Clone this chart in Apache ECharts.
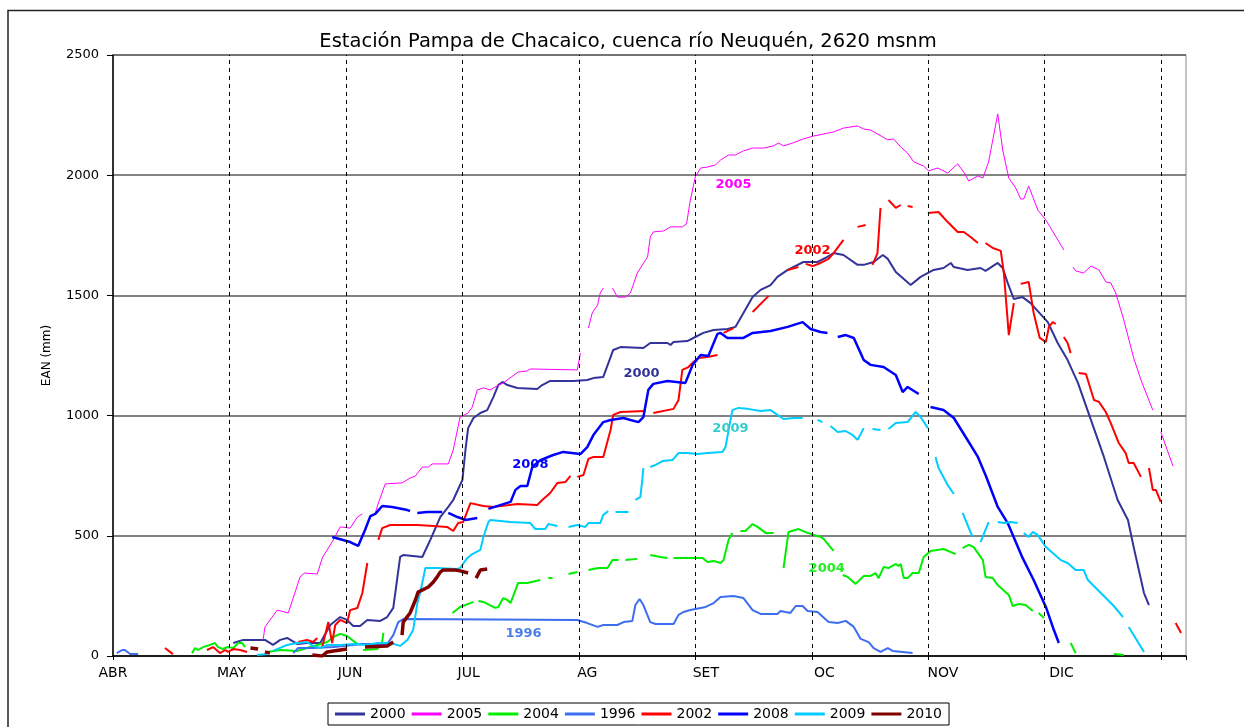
<!DOCTYPE html>
<html>
<head>
<meta charset="utf-8">
<script src="https://cdn.jsdelivr.net/npm/echarts@6/dist/echarts.min.js"></script>
<style>
    html, body { margin: 0; padding: 0; background: #fff; }
    #chart { width: 1244px; height: 727px; }
</style>
</head>
<body>
<div id="chart"></div>
<script>
// eje x: dias desde el 1 de abril, eje y: EAN (mm); null = corte de la serie
var monthLabels = ['ABR', 'MAY', 'JUN', 'JUL', 'AG', 'SET', 'OC', 'NOV', 'DIC'];
var monthStarts = [30.5, 61, 91.5, 122, 152.5, 183, 213.5, 244, 274.5];
var yTicks = [0, 500, 1000, 1500, 2000, 2500];

var y2000 = [[31.5,54],[34.1,67],[39.8,67],[41.9,46],[43.8,67],[45.6,75],[48.2,50],[50.8,54],[54.3,54],[55,75],[56.9,129],[59.5,162],[61.3,150],[62.9,125],[64.7,125],[66.6,150],[70,146],[71.8,162],[73.4,200],[75.2,412],[76,420],[81,412],[83.1,483],[85.7,578],[87.8,620],[89.1,649],[91.5,732],[92.3,857],[93,948],[94.4,990],[96.2,1011],[98,1023],[99.6,1077],[100.9,1127],[102,1140],[103.3,1127],[105.9,1115],[111.1,1111],[112.4,1127],[114.5,1144],[120.6,1144],[124.2,1148],[125.8,1156],[128.4,1161],[131,1273],[132.9,1285],[138.9,1281],[140.7,1302],[145.2,1302],[146,1294],[146.8,1306],[150.4,1310],[152.5,1327],[154.6,1344],[157.3,1356],[160.9,1360],[163,1369],[165.1,1427],[167.5,1493],[169.6,1523],[172.2,1543],[174,1577],[176.7,1606],[180.8,1639],[184.5,1639],[187.1,1660],[188.7,1676],[191.3,1668],[195,1627],[196.6,1627],[199.2,1639],[201.6,1668],[202.9,1652],[205,1597],[208.9,1543],[211.5,1577],[214.9,1606],[217.5,1614],[219.4,1635],[220.2,1618],[223.8,1606],[227.2,1614],[228.5,1602],[231.7,1635],[233,1614],[234.3,1552],[235.9,1485],[238.2,1493],[240.3,1468],[244.8,1389],[247.4,1302],[250,1231],[252.7,1136],[256.1,982],[259.5,828],[263.1,649],[265.8,566],[267.3,453],[270,262],[271.3,212]];

var y2005 = [[39.3,67],[39.8,121],[43,191],[45.9,179],[49,329],[50.1,345],[53.5,341],[54.8,408],[57.7,483],[59.5,537],[62.1,532],[64,578],[65.3,591],null,[68.7,595],[69.5,636],[71.3,716],[75.7,720],[77.8,740],[79.2,749],[81,786],[82.6,786],[83.6,799],[87.8,799],[89.1,857],[90.9,994],[93,1011],[94.1,1036],[95.4,1107],[97,1115],[98.8,1107],[100.1,1119],[102.2,1136],[106.1,1181],[108.5,1186],[109.3,1194],[121.6,1190],[122.4,1260],null,[124.5,1364],[125.5,1427],[126.9,1460],[127.6,1510],[128.4,1531],null,[130.8,1531],[132.1,1493],[134.2,1493],[135.5,1510],[137.3,1593],[140,1660],[140.7,1743],[141.5,1764],[144.2,1768],[146,1785],[149.1,1785],[150.2,1797],[151.2,1897],[152.5,1993],[153.9,2030],[155.7,2034],[157.8,2043],[159.1,2063],[161.2,2084],[163,2084],[165.1,2101],[167.5,2113],[170.4,2113],[173,2122],[174.3,2134],[175.6,2122],[178,2134],[180.8,2151],[183.5,2163],[188.7,2180],[191.3,2196],[195,2205],[196.6,2192],[198.4,2188],[202.9,2147],[204.4,2151],[206.3,2117],[208.1,2092],[209.7,2055],[212.3,2038],[213.6,2018],[216,2030],[218.6,2009],[221.2,2047],[222.8,2013],[224.1,1976],[226.5,1997],[227.8,1988],[229.3,2055],[231.7,2255],[233,2105],[234.6,1988],[236.4,1947],[237.7,1901],[238.5,1901],[239.8,1955],[242.2,1855],[244.3,1814],[249,1689],null,[251.4,1618],[252.1,1602],[254.2,1593],[256.1,1622],[258.2,1606],[260,1556],[261.3,1552],[262.6,1510],[264.7,1398],[267.3,1240],[269.2,1148],[272.3,1023],null,[274.4,932],[277.6,790]];

var y2004 = [[20.7,12],[21.5,33],[22.3,25],[23.6,37],[25.4,46],[26.7,54],[27.5,37],[28.8,29],[29.9,37],[31.5,33],[32.8,54],[33.8,54],[34.6,37],null,[40.4,17],[43.8,25],[48.2,21],[50.8,33],[53.5,46],[56.1,58],[57.7,79],[59.5,92],[61.3,83],[62.6,67],[64,50],null,[65.5,25],[69.2,29],[70.5,58],[70.8,96],null,[88.9,179],[90.9,204],[94.4,225],null,[95.7,229],[97,225],[100.1,200],[100.9,204],[102.2,241],[103.3,233],[104.1,220],[106.1,304],[108.5,304],[111.9,316],null,[114,324],[115.1,324],null,[119.3,341],[121.6,349],null,[124.5,358],[127.1,366],[129.5,366],[130.8,399],[132.4,399],null,[134.2,399],[137.3,404],null,[140.7,420],[143.4,412],[145.2,408],null,[146.8,408],[149.9,408],[154.4,408],[155.7,391],[157.3,395],[159.1,387],[159.9,399],[161.2,483],[162.2,512],null,[164.3,520],[165.6,520],[167.5,549],[168.8,537],[170.9,512],[173,512],null,[175.6,366],[176.9,516],[179.5,528],[181.9,512],[185.3,495],[186.1,487],[187.4,462],[188.7,437],null,[191.1,337],[192.4,329],[194.5,300],[196.6,333],[198.4,333],[199.7,345],[200.5,324],[201.8,370],[203.1,366],[205,383],[205.7,374],[206.3,383],[207.1,324],[208.1,324],[209.4,345],[211,345],[212.3,412],[214.1,437],[217.5,445],[220.7,424],null,[222.5,449],[224.1,462],[225.4,453],[227.8,399],[228.5,329],[230.4,324],[231.7,295],[234.6,254],[235.6,208],[237.2,216],[239,212],[240.9,187],null,[242.4,179],[243.8,158],null,[250.8,54],[252.1,12],null,[262.1,8],[264.7,4]];

var y1996 = [[1,12],[2.4,25],[3.1,25],[4.5,8],[6.6,8],null,[47.2,12],[48.5,33],[52.4,33],[57.7,37],[65.5,50],[71.8,50],[73.4,87],[74.7,141],[76,154],[121.6,150],[124.2,137],[126.9,121],[128.4,129],[132.1,129],[133.7,141],[136,146],[136.8,212],[137.9,237],[138.9,212],[140.7,141],[142.1,133],[146.8,133],[148.1,171],[149.4,183],[151.2,191],[155.2,204],[157.3,220],[159.1,245],[162.5,250],[165.1,241],[167.5,191],[169.6,175],[174,175],[174.8,187],[177.4,179],[178.8,208],[180.6,208],[181.9,187],[184.5,183],[187.4,141],[189.8,137],[191.9,146],[194,121],[195.8,71],[197.9,58],[199.2,33],[201,17],[202.9,33],[204.2,21],[209.4,12]];

var y2002 = [[13.6,33],[15.7,8],null,[24.6,25],[26.2,37],[28,12],[29.4,25],[30.1,17],[31.5,29],[33.3,25],[35.1,17],null,[48.5,58],[50.8,67],[52.4,58],[53.5,75],null,[54.8,37],[56.4,141],[57.4,54],[58.2,129],[59.5,150],[61.3,137],[62.1,191],[64,200],[65.3,262],[66.6,387],null,[69.5,483],[70.5,532],[72.6,545],[79.7,545],[83.9,541],[87.5,537],[89.1,520],[90.4,553],[91.7,557],[93.6,636],[97,624],[99.6,620],[105.9,632],[111.1,628],[112.4,649],[114.5,678],[116.4,720],[118.5,724],[119.8,749],null,[121.6,745],[123.2,753],[124.5,820],[125.8,828],[128.4,828],[130.3,940],[131,1003],[132.9,1015],[139.4,1019],null,[141.5,1011],[146.8,1028],[148.1,1065],[149.1,1190],[150.7,1202],[152,1223],[153.3,1240],[155.7,1244],[158.3,1252],null,[159.9,1344],[162.5,1364],null,[167.5,1431],[171.7,1498],null,[176.7,1606],[179.5,1618],null,[181.4,1631],[183.2,1622],[185.3,1635],[187.4,1652],[188.7,1676],[191.3,1731],null,[195,1785],[197.1,1793],null,[198.9,1627],[200.2,1676],[201,1864],null,[203.1,1897],[205,1864],[206.3,1876],null,[208.1,1872],[209.4,1868],null,[213.4,1843],[216.2,1847],[218.6,1805],[221.2,1764],[222.8,1764],[224.6,1743],[226.5,1718],null,[228.5,1718],[230.4,1697],[232.5,1685],[233.3,1593],[234.6,1335],[235.9,1468],null,[237.7,1548],[239.8,1556],[241.1,1427],[242.7,1323],[244.3,1306],[245.1,1369],[246.1,1389],[246.9,1381],null,[249,1327],[250,1302],[250.8,1260],null,[252.9,1177],[254.8,1173],[256.9,1065],[258.2,1057],[260,1015],[261.3,969],[263.4,886],[265.2,844],[266,803],[267.3,803],[269.2,745],null,[271.3,782],[272.3,691],[273.1,691],[274.4,641],null,[278.3,137],[279.7,96]];

var y2008 = [[57.4,495],[62.1,474],[64.2,458],[66,524],[67.4,582],[68.7,591],[70.5,624],[73.1,620],[77.1,607],[77.8,603],null,[79.7,595],[82.3,599],[86.2,599],null,[87.8,595],[90.2,578],[92.3,566],[95.4,574],null,[98.3,612],[104.1,641],[105.4,691],[106.7,707],[108.5,707],[109.8,786],[111.9,815],[115.3,836],[117.9,849],[122.4,840],[124.2,869],[125.8,919],[128.4,973],[130.3,982],[133.7,990],[135.5,982],[137.6,973],[138.9,994],[140.2,1107],[141.5,1132],[145.2,1144],[149.9,1136],[151.8,1211],[153.9,1252],[155.9,1248],[158.3,1340],[159.1,1344],[160.9,1323],[165.1,1323],[167.5,1344],[172.2,1352],[176.7,1369],[180.6,1389],[182.7,1360],[185.3,1348],[187.1,1344],null,[189.8,1327],[191.9,1335],[194,1323],[196.6,1231],[198.4,1211],[201.8,1202],[205,1169],[206.8,1098],[208.1,1119],[211,1090],null,[214.1,1036],[217.5,1023],[220.2,990],[223.3,911],[226.5,828],[228.5,753],[231.7,620],[234.3,553],[238.2,408],[241.1,316],[244.3,204],[246.4,108],[247.7,54]];

var y2009 = [[37.7,4],[40.4,8],null,[41.9,21],[45.6,46],[48.2,54],[50.8,58],[52.4,42],[54.3,33],[56.1,46],[59.5,46],[62.9,50],[66.6,46],[69.2,54],[72.6,54],[75.2,42],[77.1,67],[78.6,108],[79.7,220],[80.5,266],[81.8,366],[84.9,366],[90.2,362],[90.9,366],[92.8,408],[94.1,424],[96.2,441],[97,495],[98.3,557],[98.8,566],[104.1,557],[109.3,553],[110.6,528],[113.2,528],[114,549],[116.4,541],null,[119.3,537],[121.6,545],[123.7,537],[124.5,553],[127.6,553],[128.4,587],[129.7,603],null,[131.6,599],[135,599],null,[136.8,649],[138.1,661],[138.6,732],[138.9,782],null,[140.7,786],[142.1,795],[143.9,811],[146.5,815],[148.1,844],[150.4,844],[153.1,840],[155.7,844],[159.6,849],[160.4,869],[162.2,1023],[163.8,1032],[166.2,1028],[169.6,1019],[172.2,1023],[175.6,986],[178.2,990],[180.6,990],null,[184.5,982],[185.8,973],null,[187.9,957],[189.8,932],[191.9,936],[193.7,919],[195,899],[196.6,948],null,[198.9,944],[201,940],null,[203.1,944],[205,969],[208.1,973],[210.2,1015],[211.5,994],[213.4,948],null,[215.4,828],[216.2,782],[218.6,711],[220.2,674],null,[222.5,595],[225.1,495],null,[227.2,474],[229.3,557],null,[231.7,557],[233.3,553],[235.1,557],[236.9,553],null,[238.5,512],[239.8,495],[240.9,516],[242.2,503],[244.3,453],[248.2,399],[250,387],[252.1,358],[254.2,358],[255.3,316],[258.7,262],[262.1,208],[264.5,162],null,[266,121],[270,17]];

var y2010 = [[36,33],[38,29],null,[39.8,17],[41.1,12],null,[52.2,4],[54.8,0],[56.1,17],[59.5,25],[61.3,29],null,[66,37],[71.8,42],[73.4,58],null,[75.7,87],[76,141],[77.8,179],[79.2,233],[79.9,266],[82.6,287],[83.9,308],[84.9,329],[85.7,349],[86.5,358],[89.6,358],[90.9,354],[93,345],null,[95.1,324],[96.2,358],[98,362]];

var font = 'DejaVu Sans';

// nombres de las series y de las etiquetas dentro del grafico
var defs = [
    { name: '2000', pts: y2000, color: '#333399', width: 2,   note: [138.4, 1173] },
    { name: '2005', pts: y2005, color: '#FF00FF', width: 1,   note: [162.5, 1959] },
    { name: '2004', pts: y2004, color: '#00EE00', width: 2,   note: [186.9, 362], noteColor: '#22EE22' },
    { name: '1996', pts: y1996, color: '#3D6EF0', width: 2,   note: [107.5, 92], noteColor: '#4A7FEA' },
    { name: '2002', pts: y2002, color: '#FF0000', width: 2,   note: [183.2, 1685] },
    { name: '2008', pts: y2008, color: '#0000FF', width: 2.5, note: [109.3, 795] },
    { name: '2009', pts: y2009, color: '#00CCFF', width: 2,   note: [161.7, 944], noteColor: '#33CCCC' },
    { name: '2010', pts: y2010, color: '#800000', width: 3.5 }
];

function toData(pts) {
    var out = [];
    for (var i = 0; i < pts.length; i++) {
        if (pts[i] === null) {
            out.push([pts[i - 1][0] + 0.1, null]);
        } else {
            out.push(pts[i]);
        }
    }
    return out;
}

var series = [
    // lineas verticales punteadas de cada mes
    {
        name: 'meses',
        type: 'line',
        data: [],
        z: 1,
        markLine: {
            silent: true,
            symbol: ['none', 'none'],
            label: { show: false },
            lineStyle: { color: '#000', type: [4, 4], width: 1 },
            data: monthStarts.map(function (d) { return { xAxis: d }; })
        }
    }
];

defs.forEach(function (d) {
    var s = {
        name: d.name,
        type: 'line',
        data: toData(d.pts),
        showSymbol: false,
        connectNulls: false,
        color: d.color,
        lineStyle: { color: d.color, width: d.width },
        z: 2
    };
    if (d.note) {
        s.markPoint = {
            silent: true,
            symbol: 'circle',
            symbolSize: 1,
            itemStyle: { color: 'rgba(0,0,0,0)' },
            label: {
                show: true,
                position: 'inside',
                formatter: '{b}',
                color: d.noteColor || d.color,
                fontWeight: 'bold',
                fontSize: 13,
                fontFamily: font
            },
            data: [{ name: d.name, coord: d.note }]
        };
    }
    series.push(s);
});

var chart = echarts.init(document.getElementById('chart'));

var option = {
    animation: false,
    textStyle: { fontFamily: font },
    graphic: [
        {
            type: 'rect',
            silent: true,
            shape: { x: 8, y: 10.5, width: 1400, height: 900 },
            style: { fill: 'none', stroke: '#222', lineWidth: 1.5 }
        },
        {
            type: 'text',
            x: 628,
            y: 42,
            style: {
                text: 'Estación Pampa de Chacaico, cuenca río Neuquén, 2620 msnm',
                fontSize: 19.5,
                fontFamily: font,
                fill: '#000',
                align: 'center',
                verticalAlign: 'middle'
            }
        }
    ],
    grid: {
        left: 113, right: 58, top: 55, bottom: 71,
        show: true, borderColor: '#888', borderWidth: 1
    },
    legend: {
        data: defs.map(function (d) { return d.name; }),
        left: 328,
        top: 703,
        icon: 'rect',
        itemWidth: 30,
        itemHeight: 3,
        itemGap: 6,
        padding: [4, 7],
        borderColor: '#000',
        borderWidth: 1,
        textStyle: { fontSize: 14, color: '#000', fontFamily: font }
    },
    xAxis: [
        {
            type: 'value',
            min: 0,
            max: 281,
            interval: 30.5,
            axisLine: { onZero: false, lineStyle: { color: '#000', width: 1.5 } },
            axisTick: { show: true, length: 4, lineStyle: { color: '#000' } },
            axisLabel: { show: false },
            splitLine: { show: false }
        },
        {
            // solo para las etiquetas de los meses
            type: 'value',
            position: 'bottom',
            min: 0,
            max: 9.05,
            interval: 1,
            axisLine: { show: false },
            axisTick: { show: false },
            splitLine: { show: false },
            axisLabel: {
                margin: 10,
                fontSize: 14,
                color: '#000',
                fontFamily: font,
                formatter: function (v) {
                    var k = Math.round(v);
                    return Math.abs(v - k) < 1e-6 && monthLabels[k] ? monthLabels[k] : '';
                }
            }
        }
    ],
    yAxis: {
        type: 'value',
        min: yTicks[0],
        max: yTicks[yTicks.length - 1],
        interval: yTicks[1] - yTicks[0],
        name: 'EAN (mm)',
        nameLocation: 'middle',
        nameRotate: 90,
        nameGap: 60,
        nameTextStyle: { fontSize: 12, color: '#000', fontFamily: font },
        axisLine: { show: true, lineStyle: { color: '#000', width: 1.5 } },
        axisTick: { show: true, length: 6, lineStyle: { color: '#000' } },
        axisLabel: {
            margin: 14,
            fontSize: 13,
            color: '#000',
            fontFamily: font,
            formatter: function (v) { return String(v); }
        },
        splitLine: { show: true, lineStyle: { color: '#5a5a5a', width: 1.5 } }
    },
    series: series
};

chart.setOption(option);
</script>
</body>
</html>
